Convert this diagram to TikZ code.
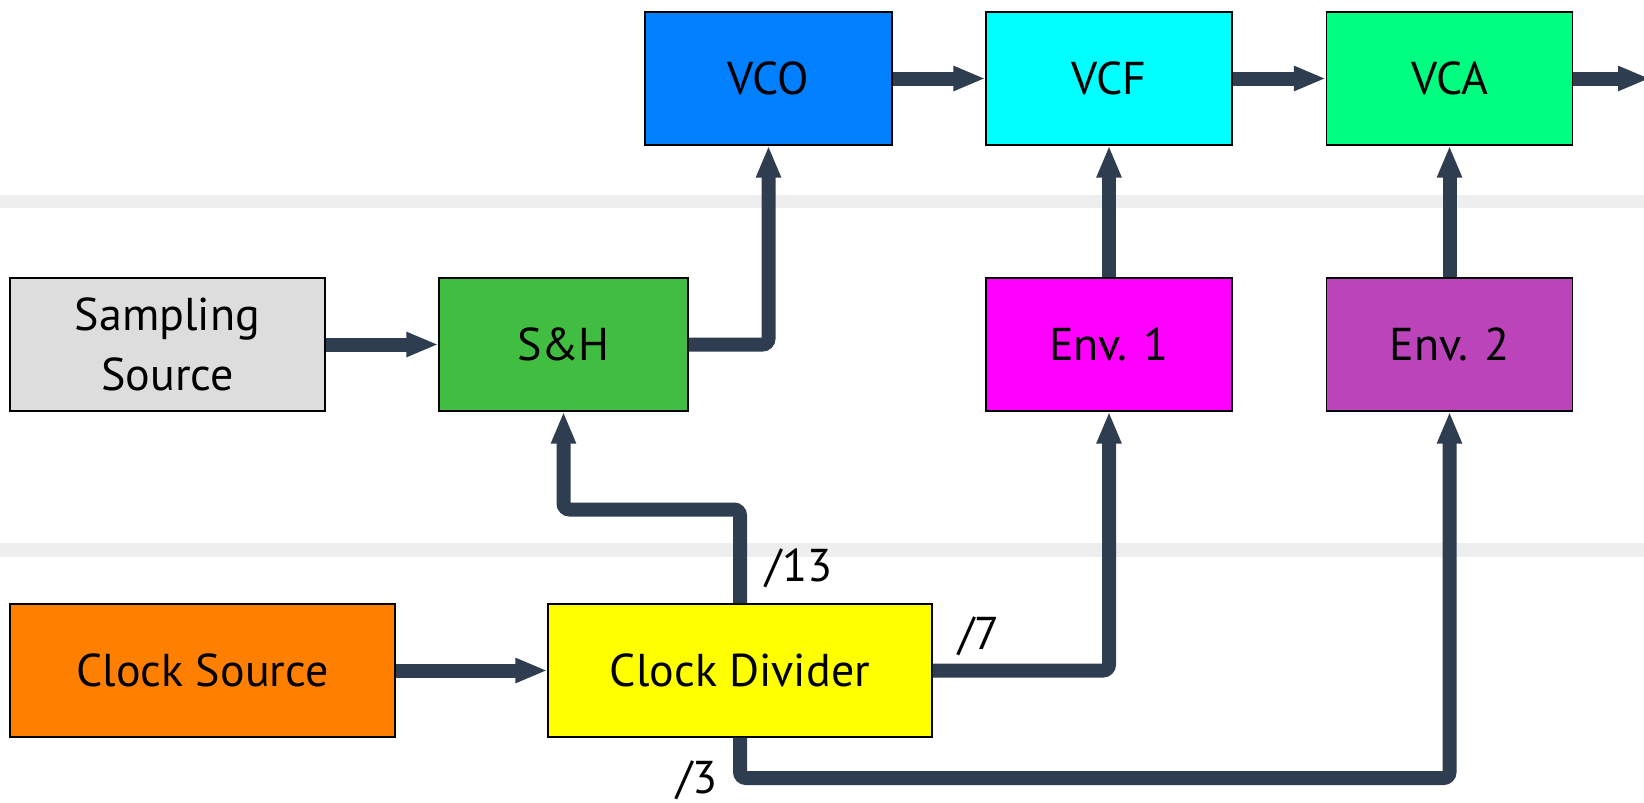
\documentclass[tikz,border=0pt]{standalone}
\usepackage{fontspec}
\setmainfont{PT Sans}
\usepackage{tikz}
\usetikzlibrary{arrows.meta}

\definecolor{wire}{HTML}{2E3E50}
\definecolor{bandgray}{HTML}{EEEEEE}
\definecolor{vcoblue}{HTML}{007FFF}
\definecolor{vcfcyan}{HTML}{00FFFF}
\definecolor{vcagreen}{HTML}{00FF80}
\definecolor{samplegray}{HTML}{DDDDDD}
\definecolor{shgreen}{HTML}{41BE41}
\definecolor{envmagenta}{HTML}{FF00FF}
\definecolor{envpurple}{HTML}{BB44BB}
\definecolor{clockorange}{HTML}{FF8000}
\definecolor{divideryellow}{HTML}{FFFF00}

\begin{document}
\begin{tikzpicture}[
  x=0.5pt, y=-0.5pt,
  every node/.style={font=\fontsize{23}{30}\selectfont},
  block/.style={draw=black, line width=0.6pt, minimum height=66.5pt,
    align=center, inner sep=0pt},
  conn/.style={draw=wire, line width=7pt, rounded corners=3pt,
    -{Triangle[length=16pt, width=11.5pt]}},
  band/.style={fill=bandgray},
  divlabel/.style={inner sep=0pt}
  ]

  \useasboundingbox (0,0) rectangle (1644,803);

  % separators
  \fill[band] (0,195) rectangle (1644,208);
  \fill[band] (0,543) rectangle (1644,557);

  % voice chain
  \node[block, fill=vcoblue, minimum width=123.5pt] (vco) at (768.5,78.5) {VCO};
  \node[block, fill=vcfcyan, minimum width=123pt] (vcf) at (1109,78.5) {VCF};
  \node[block, fill=vcagreen, minimum width=123pt] (vca) at (1449.5,78.5) {VCA};
  \coordinate (out) at (1650,78.5);

  % modulation
  \node[block, fill=samplegray, minimum width=157.5pt] (sampling) at (167.5,344.5) {Sampling\\Source};
  \node[block, fill=shgreen, minimum width=124.5pt] (sh) at (563.5,344.5) {S\&H};
  \node[block, fill=envmagenta, minimum width=123pt] (env1) at (1109,344.5) {Env. 1};
  \node[block, fill=envpurple, minimum width=123pt] (env2) at (1449.5,344.5) {Env. 2};

  % clock
  \node[block, fill=clockorange, minimum width=192.5pt] (clocksrc) at (202.5,670.5) {Clock Source};
  \node[block, fill=divideryellow, minimum width=192pt] (divider) at (740,670.5) {Clock Divider};
  \coordinate (jog) at (740,509.5);
  \coordinate (loop) at (740,778);

  \draw[conn] (vco) -- (vcf);
  \draw[conn] (vcf) -- (vca);
  \draw[conn] (vca) -- (out);
  \draw[conn] (sampling) -- (sh);
  \draw[conn] (sh.east) -| (vco.south);
  \draw[conn] (env1) -- (vcf);
  \draw[conn] (env2) -- (vca);
  \draw[conn] (clocksrc) -- (divider);
  \draw[conn] (divider.north) -- (jog) -| (sh.south);
  \draw[conn] (divider.east) -| (env1.south);
  \draw[conn] (divider.south) -- (loop) -| (env2.south);

  % divisions
  \node[divlabel] (div13) at (799,568) {/13};
  \node[divlabel] (div7) at (979,636) {/7};
  \node[divlabel] (div3) at (697,780) {/3};

\end{tikzpicture}
\end{document}
